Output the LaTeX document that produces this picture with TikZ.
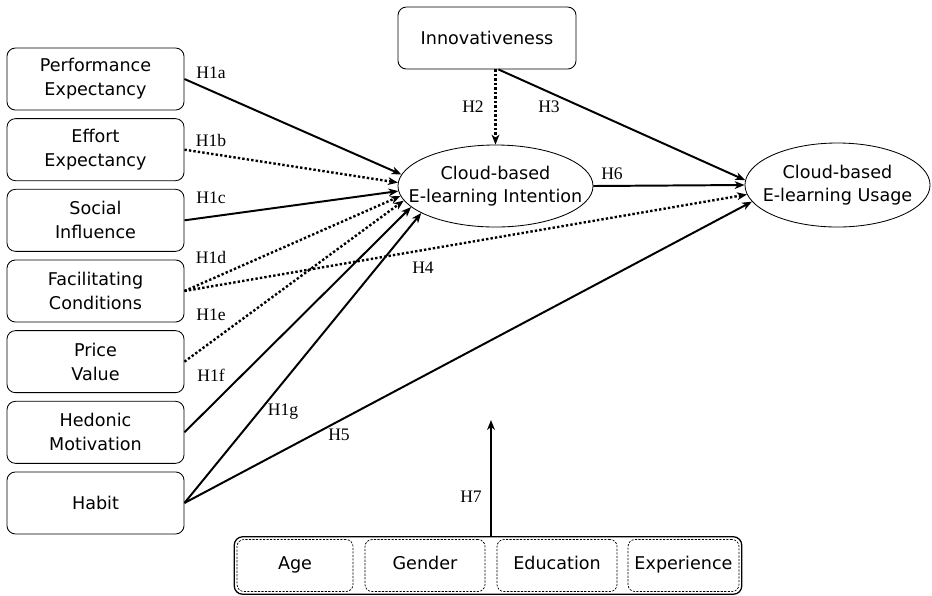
\documentclass[tikz,border=0pt]{standalone}
\usepackage{fontspec}
\setmainfont{DejaVu Sans}
\newfontfamily\hypfont{Liberation Serif}
\usetikzlibrary{arrows.meta,positioning,shapes.geometric,fit}

\begin{document}
\begin{tikzpicture}[x=0.025cm,y=-0.025cm,
  cbebox/.style={draw,rounded corners=6pt,minimum width=4.425cm,minimum height=1.55cm,
    align=center,font=\fontsize{12.5}{17}\selectfont,inner sep=2pt,line width=0.6pt},
  cbeoval/.style={draw,ellipse,align=center,font=\fontsize{12.5}{16}\selectfont,
    inner xsep=-0.45cm,inner ysep=0pt,line width=0.6pt},
  cbemod/.style={draw,dash pattern=on 1.5pt off 1pt,rounded corners=5pt,minimum height=1.3cm,
    font=\fontsize{12.5}{14}\selectfont,text height=1.6ex,text depth=0.5ex,line width=0.5pt},
  cbearrow/.style={-{Stealth[length=7pt,width=5.5pt,inset=2pt]},line width=1.4pt},
  cbedots/.style={cbearrow,line width=1.7pt,dash pattern=on 1.7pt off 1.5pt},
  cbelabel/.style={font=\hypfont\fontsize{12.5}{12.5}\selectfont,inner sep=1pt}
]
  \useasboundingbox (0,0) rectangle (932,595);
  % Left column: UTAUT2 constructs
  \node[cbebox] (pe) at (95.5,79) {Performance\\Expectancy};
  \node[cbebox,below=0.195cm of pe] (ee) {Effort\\Expectancy};
  \node[cbebox,below=0.195cm of ee] (si) {Social\\Influence};
  \node[cbebox,below=0.195cm of si] (fc) {Facilitating\\Conditions};
  \node[cbebox,below=0.195cm of fc] (pv) {Price\\Value};
  \node[cbebox,below=0.195cm of pv] (hm) {Hedonic\\Motivation};
  \node[cbebox,below=0.195cm of hm] (hb) {Habit};
  % Top and outcomes
  \node[cbebox,minimum width=4.45cm] (inn) at (487,38) {Innovativeness};
  \node[cbeoval,minimum width=4.875cm,minimum height=2.05cm] (int) at (495.5,186)
    {Cloud-based\\E-learning Intention};
  \node[cbeoval,minimum width=4.625cm,minimum height=2.1cm] (use) at (837.5,185)
    {Cloud-based\\E-learning Usage};
  % Moderators
  \node[cbemod,minimum width=2.9cm] (age) at (295,565.5) {Age};
  \node[cbemod,minimum width=3cm] (gen) at (425,565.5) {Gender};
  \node[cbemod,minimum width=3cm] (edu) at (557,565.5) {Education};
  \node[cbemod,minimum width=2.775cm] (exp) at (683.5,565.5) {Experience};
  \node[draw,rounded corners=6pt,line width=0.9pt,inner sep=0.06cm,fit=(age)(exp)] (mods) {};
  \coordinate (h7tip) at (491,420);
  % Arrows into intention
  \draw[cbearrow] (pe.east) -- (int.173);
  \draw[cbedots] (ee.east) -- (int.178);
  \draw[cbearrow] (si.east) -- (int.183);
  \draw[cbedots] (fc.east) -- (int.186);
  \draw[cbedots] (pv.east) -- (int.189);
  \draw[cbearrow] (hm.east) -- (int.194);
  \draw[cbearrow] (hb.east) -- (int.200);
  \draw[cbedots] (inn.south -| int.north) -- (int.north);
  % Arrows into usage
  \draw[cbearrow] (inn.-70) -- (use.177);
  \draw[cbedots] (fc.east) -- (use.186);
  \draw[cbearrow] (hb.east) -- (use.191);
  \draw[cbearrow] (int.east) -- (use.west);
  \draw[cbearrow] (h7tip |- mods.north) -- (h7tip);
  % Hypothesis labels
  \node[cbelabel] (l1a) at (211,73) {H1a};
  \node[cbelabel] (l1b) at (211,140) {H1b};
  \node[cbelabel] (l1c) at (211,198) {H1c};
  \node[cbelabel] (l1d) at (211,257) {H1d};
  \node[cbelabel] (l1e) at (211,315) {H1e};
  \node[cbelabel] (l1f) at (211,375) {H1f};
  \node[cbelabel] (l1g) at (283,412) {H1g};
  \node[cbelabel] (l2) at (473,107) {H2};
  \node[cbelabel] (l3) at (549,107) {H3};
  \node[cbelabel] (l4) at (423,268) {H4};
  \node[cbelabel] (l5) at (339,435) {H5};
  \node[cbelabel] (l6) at (612,174) {H6};
  \node[cbelabel] (l7) at (471,497) {H7};
\end{tikzpicture}
\end{document}
